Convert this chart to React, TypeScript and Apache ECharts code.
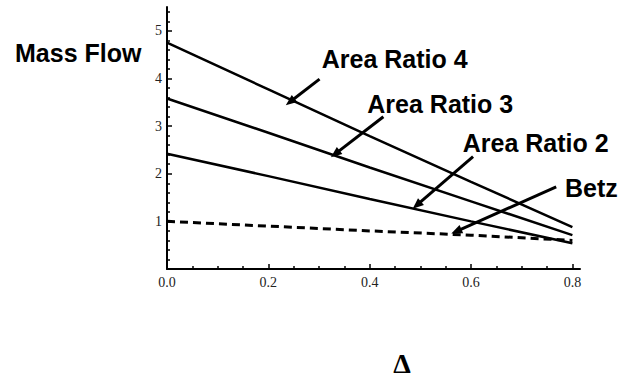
import React, { useEffect, useRef } from "react";
import * as echarts from "echarts";

// Data
const deltaValues = [0, 0.2, 0.4, 0.6, 0.8];
const areaRatio4 = [4.75, 3.77, 2.79, 1.83, 0.88];
const areaRatio3 = [3.58, 2.86, 2.13, 1.42, 0.71];
const areaRatio2 = [2.42, 1.95, 1.47, 1.0, 0.54];
const betz = [1.0, 0.9, 0.8, 0.71, 0.6];

const xTicks = [0, 0.2, 0.4, 0.6, 0.8];
const yTicks = [0, 1, 2, 3, 4, 5];
const yLabels = [1, 2, 3, 4, 5];

// Annotation arrows in data coordinates: [fromX, fromY, toX, toY]
const arrowAR4 = [0.301, 3.985, 0.243, 3.51];
const arrowAR3 = [0.427, 3.197, 0.332, 2.416];
const arrowAR2 = [0.604, 2.36, 0.493, 1.339];
const arrowBetz = [0.768, 1.726, 0.571, 0.791];

const pairs = (ys: number[]) => deltaValues.map((x, i) => [x, ys[i]]);

export default function App() {
  const ref = useRef<HTMLDivElement>(null);
  useEffect(() => {
    if (!ref.current) return;
    const chart = echarts.init(ref.current, null, { renderer: "svg" });
    const lineSeries = (name: string, ys: number[], dashed = false) => ({
      name,
      type: "line",
      data: pairs(ys),
      showSymbol: false,
      symbol: "none",
      silent: true,
      lineStyle: {
        color: "#000",
        width: dashed ? 3 : 2.5,
        type: dashed ? [8, 5] : "solid",
      },
    });
    const arrow = (a: number[]) => [
      { coord: [a[0], a[1]] },
      { coord: [a[2], a[3]] },
    ];
    const labelFont = 'bold 25px "Liberation Sans", Arial, sans-serif';
    const txt = (text: string, x: number, y: number) => ({
      type: "text",
      x,
      y,
      style: { text, font: labelFont, fill: "#000", align: "left", verticalAlign: "middle" },
    });
    chart.setOption({
      animation: false,
      backgroundColor: "#fff",
      grid: { left: 167, right: 39, top: 7, bottom: 110, containLabel: false },
      xAxis: {
        type: "value",
        min: 0,
        max: 0.815,
        interval: 0.2,
        axisLine: { show: true, lineStyle: { color: "#000", width: 2 } },
        axisTick: {
          show: true,
          inside: true,
          length: 5,
          customValues: xTicks,
          lineStyle: { color: "#000", width: 1.5 },
        },
        minorTick: { show: true, splitNumber: 4, length: 3, lineStyle: { color: "#000", width: 1.5 } },
        axisLabel: {
          customValues: xTicks,
          formatter: (v: number) => v.toFixed(1),
          fontFamily: '"Liberation Serif", "Times New Roman", serif',
          fontSize: 14,
          color: "#222",
          margin: 6,
        },
        splitLine: { show: false },
      },
      yAxis: {
        type: "value",
        min: 0,
        max: 5.5,
        interval: 1,
        axisLine: { show: true, lineStyle: { color: "#000", width: 2 } },
        axisTick: {
          show: true,
          inside: true,
          length: 5,
          customValues: yTicks,
          lineStyle: { color: "#000", width: 1.5 },
        },
        minorTick: { show: true, splitNumber: 5, length: 3, lineStyle: { color: "#000", width: 1.5 } },
        axisLabel: {
          customValues: yLabels,
          formatter: (v: number) => String(v),
          fontFamily: '"Liberation Serif", "Times New Roman", serif',
          fontSize: 14,
          color: "#222",
          margin: 5,
        },
        splitLine: { show: false },
      },
      series: [
        lineSeries("Area Ratio 4", areaRatio4),
        lineSeries("Area Ratio 3", areaRatio3),
        lineSeries("Area Ratio 2", areaRatio2),
        {
          ...lineSeries("Betz", betz, true),
          markLine: {
            silent: true,
            animation: false,
            symbol: ["none", "triangle"],
            symbolSize: [9, 11],
            label: { show: false },
            emphasis: { disabled: true },
            lineStyle: { color: "#000", width: 3, type: "solid" },
            itemStyle: { color: "#000" },
            data: [arrow(arrowAR4), arrow(arrowAR3), arrow(arrowAR2), arrow(arrowBetz)],
          },
        },
      ],
      graphic: [
        txt("Mass Flow", 15, 52.5),
        txt("Area Ratio 4", 321.7, 59),
        txt("Area Ratio 3", 367.3, 104),
        txt("Area Ratio 2", 462.7, 142.5),
        txt("Betz", 565, 187.5),
        {
          type: "text",
          x: 402,
          y: 363,
          style: {
            text: "Δ",
            font: 'bold 28px "Liberation Serif", "Times New Roman", serif',
            fill: "#000",
            align: "center",
            verticalAlign: "middle",
          },
        },
      ],
    });
    return () => chart.dispose();
  }, []);
  return (
    <div
      ref={ref}
      style={{ position: "fixed", left: 0, top: 0, width: 619, height: 379, background: "#fff" }}
    />
  );
}
